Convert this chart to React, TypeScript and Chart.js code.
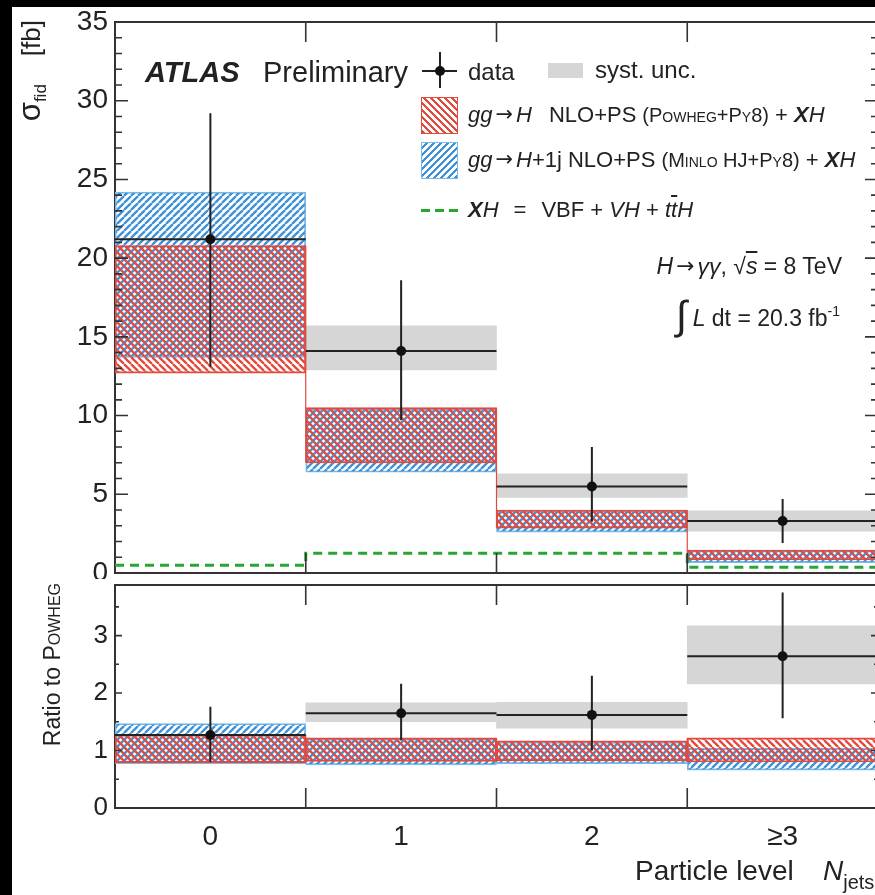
import React, { useEffect, useRef } from 'react';
import { Chart, registerables } from 'chart.js';

Chart.register(...registerables);

// ---------------- data ----------------
const categories = ['0', '1', '2', '≥3'];
const binEdges = [-0.5, 0.5, 1.5, 2.5, 3.5];

// upper panel: sigma_fid [fb]
const xsecData = [21.2, 14.1, 5.5, 3.3];
const xsecStatLo = [13.1, 9.7, 3.25, 1.9];
const xsecStatHi = [29.2, 18.6, 8.0, 4.7];
const xsecSystLo = [null, 12.9, 4.8, 2.65];
const xsecSystHi = [null, 15.7, 6.3, 3.95];
const xsecPowhegLo = [12.7, 7.0, 2.85, 0.83];
const xsecPowhegHi = [20.8, 10.5, 4.0, 1.46];
const xsecMinloLo = [13.7, 6.4, 2.6, 0.66];
const xsecMinloHi = [24.2, 10.4, 3.95, 1.42];
const xsecXH = [0.5, 1.25, 1.25, 0.37];

// lower panel: ratio to Powheg
const ratioData = [1.27, 1.65, 1.62, 2.64];
const ratioStatLo = [0.8, 1.18, 1.0, 1.56];
const ratioStatHi = [1.76, 2.16, 2.3, 3.75];
const ratioSystLo = [null, 1.5, 1.39, 2.16];
const ratioSystHi = [null, 1.83, 1.84, 3.17];
const ratioPowhegLo = [0.79, 0.81, 0.82, 0.8];
const ratioPowhegHi = [1.27, 1.22, 1.17, 1.22];
const ratioMinloLo = [0.77, 0.75, 0.77, 0.66];
const ratioMinloHi = [1.47, 1.2, 1.15, 1.04];

const xsecAxis = { min: 0, max: 35, major: 5, minor: 1 };
const ratioAxis = { min: 0, max: 3.88, major: 1, minor: 0.5 };

// ---------------- style ----------------
const FONT = '"Liberation Sans", Arial, Helvetica, sans-serif';
const INK = '#222';
const RED = 'rgb(226, 74, 62)';
const BLUE = 'rgb(62, 145, 214)';
const BLUE_EDGE = 'rgb(120, 185, 235)';
const GREEN = 'rgb(38, 168, 48)';
const GRAY = 'rgb(214, 214, 214)';

function hatch(color: string, dir: 'back' | 'fwd'): CanvasPattern {
  const s = 7;
  const c = document.createElement('canvas');
  c.width = s;
  c.height = s;
  const g = c.getContext('2d')!;
  g.strokeStyle = color;
  g.lineWidth = 2.3;
  g.beginPath();
  for (const o of [-s, 0, s]) {
    if (dir === 'back') {
      g.moveTo(o, 0);
      g.lineTo(o + s, s);
    } else {
      g.moveTo(o, s);
      g.lineTo(o + s, 0);
    }
  }
  g.stroke();
  return g.createPattern(c, 'repeat')!;
}

const innerTicks = {
  id: 'innerTicks',
  afterDatasetsDraw(chart: any, _args: any, o: any) {
    const { ctx, chartArea: a } = chart;
    const ys = chart.scales.y;
    const xs = chart.scales.x;
    ctx.save();
    ctx.strokeStyle = '#333';
    ctx.lineWidth = 1.6;
    ctx.beginPath();
    const n = Math.floor((ys.max - ys.min) / o.minor + 1e-9);
    for (let k = 0; k <= n; k++) {
      const v = ys.min + k * o.minor;
      const r = v / o.major;
      const len = Math.abs(r - Math.round(r)) < 1e-6 ? o.majorLen : o.minorLen;
      const py = ys.getPixelForValue(v);
      ctx.moveTo(a.left, py);
      ctx.lineTo(a.left + len, py);
      ctx.moveTo(a.right, py);
      ctx.lineTo(a.right - len, py);
    }
    for (const e of binEdges.slice(1, -1)) {
      const px = xs.getPixelForValue(e);
      ctx.moveTo(px, a.top);
      ctx.lineTo(px, a.top + o.edgeLen);
      ctx.moveTo(px, a.bottom);
      ctx.lineTo(px, a.bottom - o.edgeLen);
    }
    ctx.stroke();
    ctx.restore();
  },
};

type Pt = { x: number; y: number | null };
const joinSegs = (segs: Pt[][]): Pt[] =>
  segs.flatMap((s, k) => (k ? [{ x: s[0].x, y: null }, ...s] : s));

function buildDatasets(p: any, red: CanvasPattern, blue: CanvasPattern) {
  const centers = categories.map((_, i) => i);
  const band = (lo: (number | null)[], hi: (number | null)[]) =>
    centers
      .map((c, i) => ({ x: c, y: lo[i] == null ? null : [lo[i], hi[i]] }))
      .filter((d) => d.y !== null);
  const common = { xAxisID: 'x', yAxisID: 'y' };
  const barCommon = { ...common, type: 'bar', grouped: false, barPercentage: 1, categoryPercentage: 1, borderSkipped: false };
  const ds: any[] = [
    {
      ...common, type: 'line', order: 0, data: centers.map((c, i) => ({ x: c, y: p.val[i] })),
      showLine: false, pointRadius: 5, pointBackgroundColor: '#111', pointBorderWidth: 0,
    },
    {
      ...common, type: 'line', order: 1,
      data: joinSegs(centers.map((c, i) => [{ x: c, y: p.lo[i] }, { x: c, y: p.hi[i] }])),
      borderColor: INK, borderWidth: 2, pointRadius: 0,
    },
    {
      ...common, type: 'line', order: 2,
      data: joinSegs(centers.map((_, i) => [{ x: binEdges[i], y: p.val[i] }, { x: binEdges[i + 1], y: p.val[i] }])),
      borderColor: INK, borderWidth: 2, pointRadius: 0,
    },
    {
      ...common, type: 'line', order: 4,
      data: joinSegs(binEdges.slice(1, -1).map((e, k) => [
        { x: e, y: Math.min(p.powLo[k], p.powLo[k + 1]) },
        { x: e, y: Math.max(p.powHi[k], p.powHi[k + 1]) },
      ])),
      borderColor: RED, borderWidth: 1.2, pointRadius: 0,
    },
    { ...barCommon, order: 5, data: band(p.powLo, p.powHi), backgroundColor: red, borderColor: RED, borderWidth: 1.2 },
    { ...barCommon, order: 6, data: band(p.minLo, p.minHi), backgroundColor: blue, borderColor: BLUE_EDGE, borderWidth: 1.2 },
    { ...barCommon, order: 7, data: band(p.sysLo, p.sysHi), backgroundColor: GRAY, borderWidth: 0 },
  ];
  if (p.xh) {
    ds.push({
      ...common, type: 'line', order: 3,
      data: binEdges.map((e, i) => ({ x: e, y: p.xh[Math.min(i, p.xh.length - 1)] })),
      stepped: 'before', borderColor: GREEN, borderWidth: 3, borderDash: [9, 6], pointRadius: 0,
    });
  }
  return ds;
}

function makeConfig(p: any, axis: any, red: CanvasPattern, blue: CanvasPattern, opt: any) {
  const border = { display: true, color: '#333', width: 2 };
  const frame = (pos: string, isX: boolean) => ({
    type: 'linear', position: pos, z: 1,
    min: isX ? -0.5 : axis.min, max: isX ? 3.5 : axis.max,
    grid: { display: false, drawTicks: false }, border, ticks: { display: false },
    afterFit: (s: any) => { if (isX) s.height = 0; else s.width = 0; },
  });
  return {
    type: 'bar',
    data: { datasets: buildDatasets(p, red, blue) },
    plugins: [innerTicks],
    options: {
      responsive: false,
      animation: false,
      devicePixelRatio: 1,
      events: [],
      layout: { padding: opt.padding },
      plugins: {
        legend: { display: false },
        tooltip: { enabled: false },
        innerTicks: { major: axis.major, minor: axis.minor, majorLen: opt.majorLen, minorLen: opt.minorLen, edgeLen: 20 },
      },
      scales: {
        x: {
          type: 'linear', position: 'bottom', min: -0.5, max: 3.5, offset: false, z: 1,
          afterBuildTicks: (s: any) => { s.ticks = categories.map((_, i) => ({ value: i })); },
          grid: { display: false, drawTicks: false, offset: false },
          border,
          ticks: {
            display: opt.showX, padding: 12, color: INK, maxRotation: 0, autoSkip: false,
            font: { family: FONT, size: 28 },
            callback: (v: any) => categories[v] ?? '',
          },
          afterFit: (s: any) => { s.height = opt.xHeight; s.paddingLeft = 0; s.paddingRight = 0; },
        },
        x2: frame('top', true),
        y: {
          type: 'linear', position: 'left', min: axis.min, max: axis.max, z: 1,
          grid: { display: false, drawTicks: false },
          border,
          ticks: { stepSize: axis.major, includeBounds: false, padding: 7, color: INK, font: { family: FONT, size: opt.yFont } },
          afterFit: (s: any) => { s.width = 103; s.paddingTop = 0; s.paddingBottom = 0; },
        },
        y2: frame('right', false),
      },
    },
  };
}

const upperPanel = {
  val: xsecData, lo: xsecStatLo, hi: xsecStatHi, sysLo: xsecSystLo, sysHi: xsecSystHi,
  powLo: xsecPowhegLo, powHi: xsecPowhegHi, minLo: xsecMinloLo, minHi: xsecMinloHi, xh: xsecXH,
};
const lowerPanel = {
  val: ratioData, lo: ratioStatLo, hi: ratioStatHi, sysLo: ratioSystLo, sysHi: ratioSystHi,
  powLo: ratioPowhegLo, powHi: ratioPowhegHi, minLo: ratioMinloLo, minHi: ratioMinloHi, xh: null,
};

const abs = (left: number, top: number, fontSize: number, extra: any = {}) => ({
  position: 'absolute' as const, left, top, fontSize, lineHeight: 1, whiteSpace: 'nowrap' as const, ...extra,
});
const SC = { fontVariant: 'small-caps' as const };
const ARROW = { fontFamily: '"DejaVu Sans", sans-serif', fontStyle: 'normal' as const, fontSize: '0.95em', position: 'relative' as const, top: -1, margin: '0 3px' };
const XH = () => (
  <>
    <b><i>X</i></b><i>H</i>
  </>
);

export default function App() {
  const upRef = useRef<HTMLCanvasElement>(null);
  const loRef = useRef<HTMLCanvasElement>(null);

  useEffect(() => {
    const red = hatch(RED, 'back');
    const blue = hatch(BLUE, 'fwd');
    const up = new Chart(upRef.current!, makeConfig(upperPanel, xsecAxis, red, blue, {
      padding: { top: 15, right: 14, bottom: 6, left: 0 }, xHeight: 0, showX: false, yFont: 28, majorLen: 13, minorLen: 7,
    }) as any);
    const lo = new Chart(loRef.current!, makeConfig(lowerPanel, ratioAxis, red, blue, {
      padding: { top: 6, right: 14, bottom: 0, left: 0 }, xHeight: 87, showX: true, yFont: 26, majorLen: 7, minorLen: 4,
    }) as any);
    return () => {
      up.destroy();
      lo.destroy();
    };
  }, []);

  return (
    <div style={{ position: 'fixed', left: 0, top: 0, width: 875, height: 895, background: '#000', overflow: 'hidden', fontFamily: FONT, color: INK }}>
      <div style={{ position: 'absolute', left: 12, top: 7, width: 880, height: 888, background: '#fff' }} />
      <canvas ref={upRef} width={880} height={572} style={{ position: 'absolute', left: 12, top: 7, width: 880, height: 572 }} />
      <canvas ref={loRef} width={880} height={316} style={{ position: 'absolute', left: 12, top: 579, width: 880, height: 316 }} />

      {/* y titles */}
      <div style={abs(14, 190, 26, { width: 170, height: 26, textAlign: 'right', transform: 'rotate(-90deg)', transformOrigin: 'left top' })}>
        <span style={{ fontSize: 31 }}>σ</span>
        <span style={{ fontSize: 17, position: 'relative', top: 6 }}>fid</span>
        <span style={{ marginLeft: 28 }}>[fb]</span>
      </div>
      <div style={abs(41, 803, 23, { width: 220, height: 23, textAlign: 'right', transform: 'rotate(-90deg)', transformOrigin: 'left top' })}>
        Ratio to <span style={SC}>Powheg</span>
      </div>

      {/* ATLAS label */}
      <div style={abs(145, 58, 29, { fontWeight: 'bold', fontStyle: 'italic' })}>ATLAS</div>
      <div style={abs(263, 58, 29)}>Preliminary</div>

      {/* legend: data + syst */}
      <div style={{ position: 'absolute', left: 422, top: 70, width: 35, height: 2, background: INK }} />
      <div style={{ position: 'absolute', left: 439, top: 52, width: 2, height: 36, background: INK }} />
      <div style={{ position: 'absolute', left: 435, top: 66, width: 10, height: 10, borderRadius: '50%', background: '#111' }} />
      <div style={abs(468, 60, 24)}>data</div>
      <div style={{ position: 'absolute', left: 548, top: 63, width: 35, height: 15, background: GRAY }} />
      <div style={abs(595, 58, 24)}>syst. unc.</div>

      {/* legend: Powheg */}
      <div style={{ position: 'absolute', left: 421, top: 97, width: 35, height: 35, border: `1.5px solid ${RED}`, background: `repeating-linear-gradient(45deg, ${RED} 0 2.2px, #fff 2.2px 5px)` }} />
      <div style={abs(468, 104, 22)}>
        <i>gg<span style={ARROW}>→</span>H</i>
        <span style={{ marginLeft: 17 }}>NLO+PS</span>
        <span style={{ fontSize: 20, marginLeft: 6 }}>
          (<span style={SC}>Powheg</span>+<span style={SC}>Py</span>8)
        </span>
        <span> + </span>
        <XH />
      </div>

      {/* legend: MiNLO */}
      <div style={{ position: 'absolute', left: 421, top: 142, width: 35, height: 35, border: `1.5px solid ${BLUE_EDGE}`, background: `repeating-linear-gradient(-45deg, ${BLUE} 0 2.2px, #fff 2.2px 5px)` }} />
      <div style={abs(468, 149, 22)}>
        <i>gg<span style={ARROW}>→</span>H</i>+1j NLO+PS{' '}
        <span style={{ fontSize: 20 }}>
          (<span style={SC}>Minlo</span> HJ+<span style={SC}>Py</span>8)
        </span>
        <span> + </span>
        <XH />
      </div>

      {/* legend: XH */}
      <div style={{ position: 'absolute', left: 421, top: 209, width: 38, height: 3, background: `repeating-linear-gradient(90deg, ${GREEN} 0 9px, transparent 9px 14px)` }} />
      <div style={abs(468, 199, 22)}>
        <XH />
        <span style={{ margin: '0 15px' }}>=</span>
        VBF + <i>VH</i> + <i>t<span style={{ textDecoration: 'overline' }}>t</span>H</i>
      </div>

      {/* process / lumi */}
      <div style={abs(500, 255, 23, { width: 342, textAlign: 'right' })}>
        <i>H</i><span style={ARROW}>→</span><i>γγ</i>, √<i style={{ textDecoration: 'overline' }}>s</i> = 8 TeV
      </div>
      <div style={abs(500, 307, 23, { width: 340, textAlign: 'right' })}>
        <span style={{ fontSize: 40, lineHeight: 0, position: 'relative', top: 3, marginRight: 6 }}>∫</span>
        <i>L</i> dt = 20.3 fb
        <span style={{ fontSize: 14, position: 'relative', top: -10 }}>-1</span>
      </div>

      {/* x title */}
      <div style={abs(635, 857, 28)}>Particle level</div>
      <div style={abs(823, 857, 28)}>
        <i>N</i>
        <span style={{ fontSize: 20, position: 'relative', top: 9 }}>jets</span>
      </div>
    </div>
  );
}
